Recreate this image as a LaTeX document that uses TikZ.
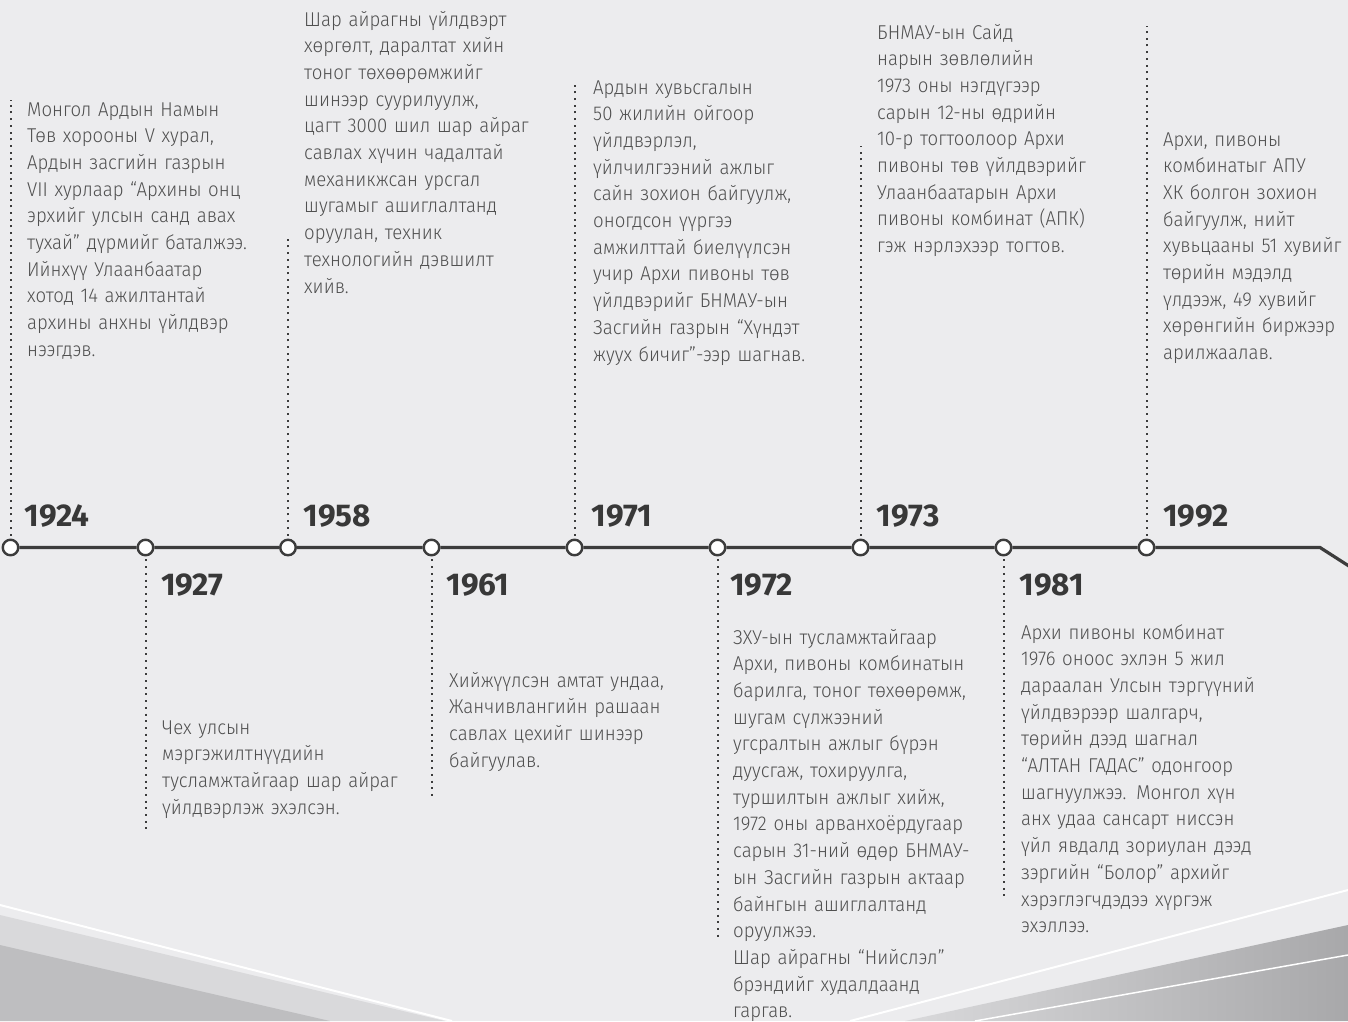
\documentclass[tikz,border=0pt]{standalone}
\usepackage{fontspec}
\setmainfont{Fira Sans}[UprightFont=* Light, FakeStretch=0.93]
\newfontfamily\yearfont{Fira Sans}[UprightFont=* Bold]
\definecolor{bg}{HTML}{ECECEE}
\definecolor{linec}{HTML}{3C3C3C}
\definecolor{txtc}{HTML}{505050}
\definecolor{yearc}{HTML}{383838}
\definecolor{decA}{HTML}{BEBEC0}
\definecolor{decB}{HTML}{D9D9DB}
\definecolor{decC}{HTML}{A8A8AA}
\tikzset{
  tl/.style={draw=linec, line width=3.2pt},
  ev/.style={circle, draw=linec, fill=white, line width=2.4pt, minimum size=15.5pt, inner sep=0pt},
  dotline/.style={draw=linec, line width=2pt, dash pattern=on 2pt off 4.7pt},
  yearlbl/.style={anchor=base west, inner sep=0pt, text=yearc, font=\yearfont\fontsize{31.5}{31.5}\selectfont},
  desc/.style={anchor=base west, inner sep=0pt, text=txtc, align=left, text width=320pt,
    font=\fontsize{20}{26.7}\selectfont},
}
\begin{document}
\begin{tikzpicture}[x=1pt,y=-1pt]
\fill[bg] (0,0) rectangle (1348,1021);
\useasboundingbox (0,0) rectangle (1348,1021);

% bottom decoration, left
\fill[decB] (0,915) -- (445,1021) -- (0,1021) -- cycle;
\fill[decA] (0,945) -- (330,1021) -- (0,1021) -- cycle;
\draw[white, line width=2pt] (0,905) -- (452,1021);
% bottom decoration, right
\shade[left color=decB, right color=decC] (905,1021) -- (1348,925) -- (1348,1021) -- cycle;
\draw[white, line width=2pt] (850,1021) -- (1348,890);
\draw[white, line width=1.5pt] (975,1021) -- (1348,955);

% event nodes
\node[ev] (n1924) at (10.5,547.5) {};
\node[ev] (n1927) at (145.5,547.5) {};
\node[ev] (n1958) at (288,547.5) {};
\node[ev] (n1961) at (431.5,547.5) {};
\node[ev] (n1971) at (574.5,547.5) {};
\node[ev] (n1972) at (717.5,547.5) {};
\node[ev] (n1973) at (860.5,547.5) {};
\node[ev] (n1981) at (1003.5,547.5) {};
\node[ev] (n1992) at (1146.5,547.5) {};
\coordinate (bend) at (1320,547.5);
\coordinate (tend) at (1352,568);

\draw[tl] (n1924) -- (n1927) -- (n1958) -- (n1961) -- (n1971) -- (n1972)
  -- (n1973) -- (n1981) -- (n1992) -- (bend) -- (tend);

% dotted guides
\coordinate (g1924) at (10.5,100);
\coordinate (g1958) at (288,236);
\coordinate (g1971) at (574.5,80);
\coordinate (g1973) at (860.5,146);
\coordinate (g1992) at (1146.5,26);
\coordinate (g1927) at (145.5,832);
\coordinate (g1961) at (431.5,796);
\coordinate (g1972) at (717.5,938);
\coordinate (g1981) at (1003.5,898);
\foreach \y in {1924,1958,1971,1973,1992,1927,1961,1972,1981}
  \draw[dotline, shorten <=3pt] (n\y) -- (g\y);

% years
\node[yearlbl] (y1924) at (24.5,526) {1924};
\node[yearlbl] (y1958) at (303.5,526) {1958};
\node[yearlbl] (y1971) at (591.5,526) {1971};
\node[yearlbl] (y1973) at (876.5,526) {1973};
\node[yearlbl] (y1992) at (1163,526) {1992};
\node[yearlbl] (y1927) at (161,595) {1927};
\node[yearlbl] (y1961) at (446.5,595) {1961};
\node[yearlbl] (y1972) at (730,595) {1972};
\node[yearlbl] (y1981) at (1019.5,595) {1981};

% descriptions
\node[desc] (d1924) at (27,116) {Монгол Ардын Намын\\Төв хорооны V хурал,\\Ардын засгийн газрын\\VII хурлаар “Архины онц\\эрхийг улсын санд авах\\тухай” дүрмийг баталжээ.\\Ийнхүү Улаанбаатар\\хотод 14 ажилтантай\\архины анхны үйлдвэр\\нээгдэв.};
\node[desc] (d1958) at (304,26) {Шар айрагны үйлдвэрт\\хөргөлт, даралтат хийн\\тоног төхөөрөмжийг\\шинээр суурилуулж,\\цагт 3000 шил шар айраг\\савлах хүчин чадалтай\\механикжсан урсгал\\шугамыг ашиглалтанд\\оруулан, техник\\технологийн дэвшилт\\хийв.};
\node[desc] (d1971) at (593,94) {Ардын хувьсгалын\\50 жилийн ойгоор\\үйлдвэрлэл,\\үйлчилгээний ажлыг\\сайн зохион байгуулж,\\оногдсон үүргээ\\амжилттай биелүүлсэн\\учир Архи пивоны төв\\үйлдвэрийг БНМАУ-ын\\Засгийн газрын “Хүндэт\\жуух бичиг”-ээр шагнав.};
\node[desc] (d1973) at (877,39) {БНМАУ-ын Сайд\\нарын зөвлөлийн\\1973 оны нэгдүгээр\\сарын 12-ны өдрийн\\10-р тогтоолоор Архи\\пивоны төв үйлдвэрийг\\Улаанбаатарын Архи\\пивоны комбинат (АПК)\\гэж нэрлэхээр тогтов.};
\node[desc] (d1992) at (1163,146) {Архи, пивоны\\комбинатыг АПУ\\ХК болгон зохион\\байгуулж, нийт\\хувьцааны 51 хувийг\\төрийн мэдэлд\\үлдээж, 49 хувийг\\хөрөнгийн биржээр\\арилжаалав.};
\node[desc] (d1927) at (162,734) {Чех улсын\\мэргэжилтнүүдийн\\тусламжтайгаар шар айраг\\үйлдвэрлэж эхэлсэн.};
\node[desc] (d1961) at (449,687) {Хийжүүлсэн амтат ундаа,\\Жанчивлангийн рашаан\\савлах цехийг шинээр\\байгуулав.};
\node[desc] (d1972) at (733,644) {ЗХУ-ын тусламжтайгаар\\Архи, пивоны комбинатын\\барилга, тоног төхөөрөмж,\\шугам сүлжээний\\угсралтын ажлыг бүрэн\\дуусгаж, тохируулга,\\туршилтын ажлыг хийж,\\1972 оны арванхоёрдугаар\\сарын 31-ний өдөр БНМАУ-\\ын Засгийн газрын актаар\\байнгын ашиглалтанд\\оруулжээ.\\Шар айрагны “Нийслэл”\\брэндийг худалдаанд\\гаргав.};
\node[desc] (d1981) at (1021,639) {Архи пивоны комбинат\\1976 оноос эхлэн 5 жил\\дараалан Улсын тэргүүний\\үйлдвэрээр шалгарч,\\төрийн дээд шагнал\\“АЛТАН ГАДАС” одонгоор\\шагнуулжээ. Монгол хүн\\анх удаа сансарт ниссэн\\үйл явдалд зориулан дээд\\зэргийн “Болор” архийг\\хэрэглэгчдэдээ хүргэж\\эхэллээ.};
\end{tikzpicture}
\end{document}
